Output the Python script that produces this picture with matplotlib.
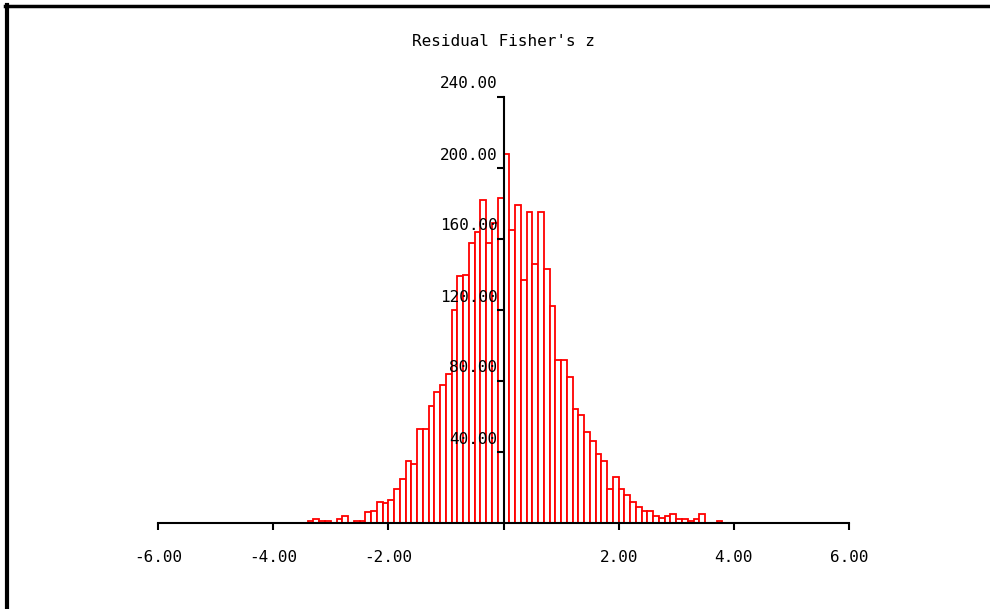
import matplotlib
matplotlib.use("Agg")
import matplotlib.pyplot as plt
import numpy as np

# histogram of residual Fisher's z, bins of 0.1 starting at -3.4
title = "Residual Fisher's z"
bin_start = -3.4
bin_width = 0.1
counts = [1, 2, 1, 1, 0, 2, 4, 0, 1, 1, 6, 7, 12, 11, 13, 19, 25, 35, 33, 53,
          53, 66, 74, 78, 84, 120, 139, 140, 158, 164, 182, 158, 169, 183,
          208, 165, 179, 137, 175, 146, 175, 143, 122, 92, 92, 82, 64, 61, 51,
          46, 39, 35, 19, 26, 19, 16, 12, 9, 7, 7, 4, 3, 4, 5, 2, 2, 1, 2, 5,
          0, 0, 1]
xticks = [-6, -4, -2, 2, 4, 6]
yticks = [40, 80, 120, 160, 200, 240]

W, H = 990, 609
fig = plt.figure(figsize=(W / 100, H / 100), dpi=100)
font = dict(family="DejaVu Sans Mono", fontsize=11.5, color="black")

# axes box placed so that x -6..6 -> px 158..849 and y 0..240 -> px 523..97
ax = fig.add_axes([158 / W, (H - 523) / H, 691 / W, 426 / H])
ax.set_xlim(-6, 6)
ax.set_ylim(0, 240)

edges = bin_start + bin_width * np.arange(len(counts))
ax.bar(edges, counts, width=bin_width, align="edge", facecolor="white",
       edgecolor="red", linewidth=1.3, zorder=1)

for s in ["top", "right"]:
    ax.spines[s].set_visible(False)
ax.spines["left"].set_position(("data", 0))
ax.spines["left"].set_linewidth(1.5)
ax.spines["bottom"].set_linewidth(1.5)
ax.spines["left"].set_zorder(3)
ax.spines["bottom"].set_zorder(3)

ax.set_xticks(xticks + [0])
ax.set_xticklabels([])
ax.set_yticks(yticks)
ax.set_yticklabels([])
ax.tick_params(axis="x", direction="out", length=5, width=1.5)
ax.tick_params(axis="y", direction="out", length=5, width=1.5)

for v in xticks:
    ax.annotate("%.2f" % v, xy=(v, 0), xytext=(0, -34), textcoords="offset pixels",
                ha="center", va="center", **font)
for v in yticks:
    ax.annotate("%.2f" % v, xy=(0, v), xytext=(-6, 13), textcoords="offset pixels",
                ha="right", va="center", **font)

fig.text(503 / W, 1 - 42 / H, title, ha="center", va="center", **font)

# black frame on the left and top edges of the picture
fig.add_artist(plt.Line2D([6.5 / W, 6.5 / W], [0, 1 - 5 / H], color="black",
                          linewidth=3, transform=fig.transFigure))
fig.add_artist(plt.Line2D([5 / W, 1], [1 - 6 / H, 1 - 6 / H], color="black",
                          linewidth=2.5, transform=fig.transFigure))

fig.savefig("out.png", dpi=100)
